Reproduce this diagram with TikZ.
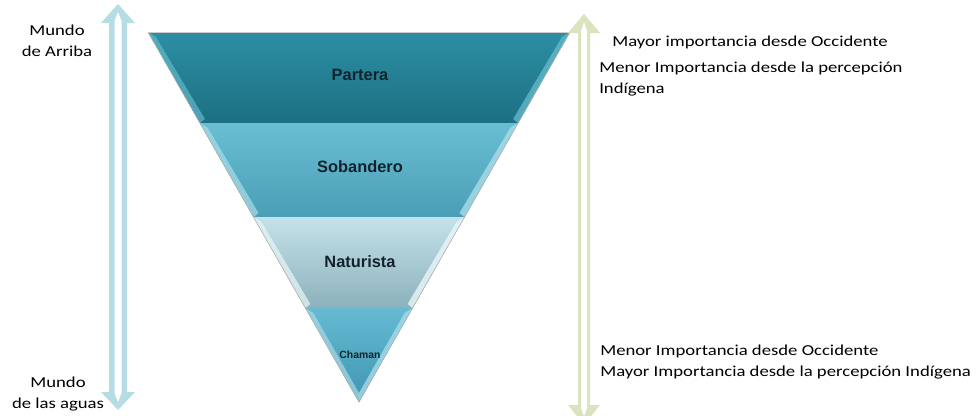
\documentclass[tikz,border=0pt]{standalone}
\usepackage{fontspec}
\setmainfont{Carlito}[FakeStretch=1.23]
\newfontfamily\labelfont{Liberation Sans}[BoldFont={Liberation Sans Bold}]
\usetikzlibrary{calc}

\definecolor{parteraTop}{HTML}{2C8FA4}
\definecolor{parteraBot}{HTML}{1D6F82}
\definecolor{parteraEdge}{HTML}{62B8CA}
\definecolor{sobTop}{HTML}{69BED4}
\definecolor{sobBot}{HTML}{4A9FB6}
\definecolor{sobEdge}{HTML}{A9DDEA}
\definecolor{natTop}{HTML}{C4E2E9}
\definecolor{natBot}{HTML}{8CB1BC}
\definecolor{natEdge}{HTML}{EAF6F8}
\definecolor{chaTop}{HTML}{66BBD3}
\definecolor{chaBot}{HTML}{3F95B0}
\definecolor{chaEdge}{HTML}{A6DAE8}
\definecolor{worldArrow}{HTML}{B5DDE3}
\definecolor{valueArrow}{HTML}{D7E4BD}
\definecolor{labelInk}{HTML}{14232B}

\tikzset{
  layerlabel/.style={font=\labelfont\bfseries\fontsize{12.3}{14}\selectfont, text=labelInk, inner sep=0pt},
  smalllabel/.style={font=\labelfont\bfseries\fontsize{7.8}{9}\selectfont, text=labelInk, inner sep=0pt},
  sidetext/.style={font=\fontsize{11.4}{15.5}\selectfont, inner sep=0pt, text=black},
  bandline/.style={draw=black!45, line width=0.5pt},
}

\begin{document}
\begin{tikzpicture}[x=0.75pt, y=-0.75pt]
\useasboundingbox (0,0) rectangle (977,415);

% inverted pyramid corners
\coordinate (TL) at (148,32);
\coordinate (TR) at (570,32);
\coordinate (AP) at (359,402);
\coordinate (L1) at ($(TL)!0.246!(AP)$);
\coordinate (R1) at ($(TR)!0.246!(AP)$);
\coordinate (L2) at ($(TL)!0.5!(AP)$);
\coordinate (R2) at ($(TR)!0.5!(AP)$);
\coordinate (L3) at ($(TL)!0.746!(AP)$);
\coordinate (R3) at ($(TR)!0.746!(AP)$);

% Partera band
\fill[top color=parteraTop, bottom color=parteraBot] (TL) -- (TR) -- (R1) -- (L1) -- cycle;
\fill[parteraEdge, opacity=0.7] (TL) -- ($(TL)+(8,5)$) -- ($(L1)+(5,-4)$) -- (L1) -- cycle;
\fill[parteraEdge, opacity=0.8] (TR) -- ($(TR)+(-8,5)$) -- ($(R1)+(-5,-4)$) -- (R1) -- cycle;
\draw[bandline] (L1) -- (R1);

% Sobandero band
\fill[top color=sobTop, bottom color=sobBot] (L1) -- (R1) -- (R2) -- (L2) -- cycle;
\fill[sobEdge, opacity=0.7] (L1) -- ($(L1)+(8,5)$) -- ($(L2)+(5,-4)$) -- (L2) -- cycle;
\fill[sobEdge, opacity=0.8] (R1) -- ($(R1)+(-8,5)$) -- ($(R2)+(-5,-4)$) -- (R2) -- cycle;
\draw[bandline] (L2) -- (R2);

% Naturista band
\fill[top color=natTop, bottom color=natBot] (L2) -- (R2) -- (R3) -- (L3) -- cycle;
\fill[natEdge, opacity=0.7] (L2) -- ($(L2)+(8,5)$) -- ($(L3)+(5,-4)$) -- (L3) -- cycle;
\fill[natEdge, opacity=0.8] (R2) -- ($(R2)+(-8,5)$) -- ($(R3)+(-5,-4)$) -- (R3) -- cycle;
\draw[bandline] (L3) -- (R3);

% Chaman tip
\fill[top color=chaTop, bottom color=chaBot] (L3) -- (R3) -- (AP) -- cycle;
\fill[chaEdge, opacity=0.7] (L3) -- ($(L3)+(8,5)$) -- ($(AP)+(0,-9)$) -- (AP) -- cycle;
\fill[chaEdge, opacity=0.8] (R3) -- ($(R3)+(-8,5)$) -- ($(AP)+(0,-9)$) -- (AP) -- cycle;

% faint outline of the funnel
\draw[black!30, line width=0.4pt] (TL) -- (AP) -- (TR);
\draw[black!20, line width=0.4pt] (TL) -- (TR);

% layer names
\node[layerlabel] (partera) at (360,75) {Partera};
\node[layerlabel] (sobandero) at (360,167) {Sobandero};
\node[layerlabel] (naturista) at (360,262) {Naturista};
\node[smalllabel] (chaman) at (360,355) {Chaman};

% left double-headed arrow: upper world / world of the waters
\fill[worldArrow] (118,4) -- (135,23) -- (127,23) -- (127,392) -- (135,392) -- (118,410)
  -- (101,392) -- (109,392) -- (109,23) -- (101,23) -- cycle;
\fill[white] (118,12) -- (121.5,21) -- (121.5,393) -- (118,402) -- (114.5,393) -- (114.5,21) -- cycle;

% right double-headed arrow: importance scale
\fill[valueArrow] (584,14) -- (600,33) -- (590,33) -- (590,405) -- (600,405) -- (584,425)
  -- (568,405) -- (578,405) -- (578,33) -- (568,33) -- cycle;
\fill[white] (584,22) -- (587,31) -- (587,408) -- (584,416) -- (581,408) -- (581,31) -- cycle;

% left labels (base anchor sits on the last line)
\node[sidetext, align=center, anchor=base] (arriba) at (57,56) {Mundo\\de Arriba};
\node[sidetext, align=center, anchor=base] (aguas) at (58,408) {Mundo\\de las aguas};

% right labels
\node[sidetext, anchor=base west] (mayorOcc) at (612,46) {Mayor importancia desde Occidente};
\node[sidetext, align=left, anchor=base west] (menorInd) at (599,93) {Menor Importancia desde la percepción\\Indígena};
\node[sidetext, align=left, anchor=base west] (menorOcc) at (600,376) {Menor Importancia desde Occidente\\Mayor Importancia desde la percepción Indígena};
\end{tikzpicture}
\end{document}
